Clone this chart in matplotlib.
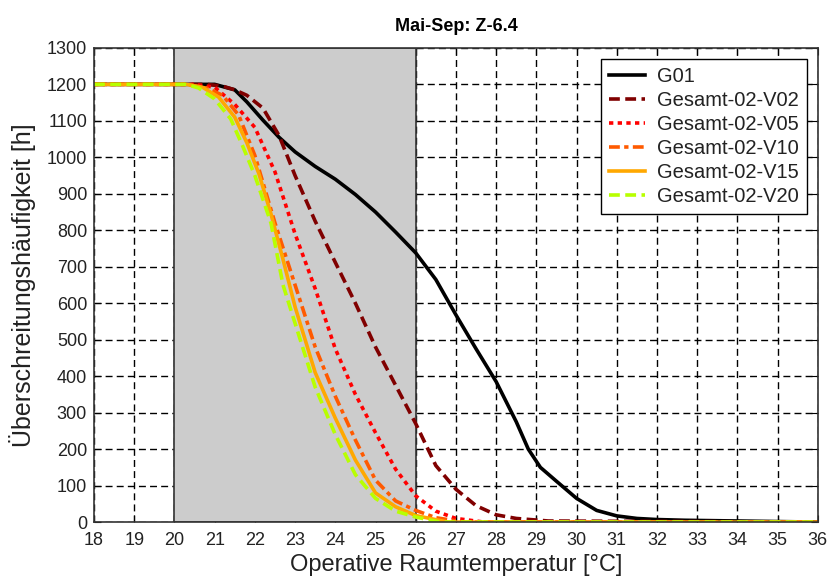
import matplotlib
matplotlib.use('Agg')
from matplotlib import pyplot as plt

plt.rcParams['font.family'] = ['Liberation Sans', 'DejaVu Sans']

# Überschreitungshäufigkeit [h] per operative Raumtemperatur [°C]
g01_x = [18, 21.0, 21.5, 21.8, 22.2, 22.6, 23.0, 23.5, 24.0, 24.5, 25.0, 25.5, 26.0,
         26.5, 27.0, 27.5, 28.0, 28.5, 28.8, 29.1, 29.5, 30.0, 30.5, 31.0, 31.5, 32.0, 32.7, 36]
g01_y = [1200, 1200, 1185, 1152, 1102, 1055, 1015, 975, 940, 898, 850, 795, 738,
         665, 568, 475, 385, 275, 200, 150, 112, 65, 32, 17, 10, 7, 5, 0]

v02_x = [18, 20.8, 21.2, 21.5, 21.8, 22.2, 22.6, 23.0, 23.5, 24.0, 24.5, 25.0, 25.5,
         26.0, 26.5, 27.0, 27.5, 28.0, 28.5, 29.3, 36]
v02_y = [1200, 1200, 1195, 1185, 1170, 1135, 1060, 950, 825, 712, 600, 480, 375,
         270, 155, 90, 45, 20, 10, 3, 0]

v05_x = [18, 20.5, 21.0, 21.5, 22.0, 22.5, 23.0, 23.5, 24.0, 24.5, 25.0, 25.5, 26.0,
         26.5, 27.0, 27.7, 36]
v05_y = [1200, 1200, 1192, 1145, 1082, 960, 790, 640, 475, 350, 245, 145, 72,
         30, 10, 0, 0]

v10_x = [18, 20.3, 20.8, 21.2, 21.6, 22.0, 22.5, 23.0, 23.5, 24.0, 24.5, 25.0, 25.5,
         26.0, 26.5, 27.2, 36]
v10_y = [1200, 1200, 1190, 1170, 1115, 1005, 820, 650, 480, 345, 225, 115, 58,
         32, 12, 0, 0]

v15_x = [18, 20.3, 20.7, 21.1, 21.5, 21.8, 22.1, 22.4, 22.7, 23.0, 23.5, 24.0, 24.5,
         25.0, 25.5, 26.0, 26.8, 36]
v15_y = [1200, 1200, 1192, 1165, 1110, 1040, 955, 845, 720, 590, 410, 285, 170,
         80, 42, 18, 0, 0]

v20_x = [18, 20.3, 20.6, 21.0, 21.4, 21.7, 22.0, 22.4, 22.7, 23.0, 23.5, 24.0, 24.5,
         25.0, 25.5, 26.0, 26.6, 36]
v20_y = [1200, 1200, 1190, 1160, 1105, 1030, 950, 820, 650, 545, 370, 240, 130,
         65, 30, 14, 0, 0]

fig = plt.figure(figsize=(8.32, 5.84), dpi=100)
ax = fig.add_axes([0.113, 0.106, 0.870, 0.812])

ax.axvspan(20, 26, facecolor='#cccccc', edgecolor='#333333', lw=1.2, zorder=1)

ax.plot(g01_x, g01_y, color='black', lw=2.6, label='G01', zorder=3)
ax.plot(v02_x, v02_y, color='#800000', lw=2.6, ls=(0, (3, 1.5)), label='Gesamt-02-V02', zorder=3)
ax.plot(v05_x, v05_y, color='#ff0000', lw=2.6, ls=(0, (1.2, 1.2)), label='Gesamt-02-V05', zorder=3)
ax.plot(v10_x, v10_y, color='#ff5a00', lw=2.6, ls=(0, (3, 1.2, 1.2, 1.2)), label='Gesamt-02-V10', zorder=3)
ax.plot(v15_x, v15_y, color='#ffa800', lw=2.6, label='Gesamt-02-V15', zorder=3)
ax.plot(v20_x, v20_y, color='#b8ff00', lw=2.6, ls=(0, (3, 1.5)), label='Gesamt-02-V20', zorder=3)

ax.set_xlim(18, 36)
ax.set_ylim(0, 1300)
ax.set_xticks(range(18, 37))
ax.set_yticks(range(0, 1301, 100))
ax.set_axisbelow(True)
ax.grid(True, color='black', ls=(0, (5, 3)), lw=1.0)
ax.tick_params(direction='in', top=True, right=True, length=5, labelsize=13,
               labelcolor='#222222')
ax.tick_params(axis='x', pad=7)
ax.tick_params(axis='y', pad=5)
for s in ax.spines.values():
    s.set_color('#333333')
    s.set_linewidth(1.2)
    s.set_zorder(4)

ax.set_title('Mai-Sep: Z-6.4', fontsize=13, fontweight='bold', pad=12)
ax.set_xlabel('Operative Raumtemperatur [°C]', fontsize=17, labelpad=4, color='#222222')
ax.set_ylabel('Überschreitungshäufigkeit [h]', fontsize=18, labelpad=8, color='#222222')

leg = ax.legend(loc='upper right', fontsize=14.5, frameon=True, fancybox=False,
                borderaxespad=0.55, handlelength=1.8, handletextpad=0.6,
                labelspacing=0.25, borderpad=0.4)
leg.get_frame().set_edgecolor('black')
leg.get_frame().set_linewidth(1.0)
leg.get_frame().set_alpha(1)
for t in leg.get_texts():
    t.set_color('#222222')

fig.savefig('out.png', dpi=100)
